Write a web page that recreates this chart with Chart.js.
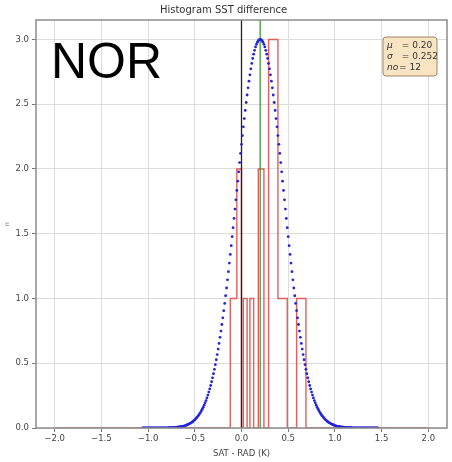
<!DOCTYPE html>
<html>
<head>
<meta charset="utf-8">
<script src="https://cdn.jsdelivr.net/npm/chart.js@4/dist/chart.umd.min.js"></script>
<style>
  html, body { margin: 0; padding: 0; background: #fff; }
  #wrap { width: 452px; height: 462px; }
</style>
</head>
<body>
<div id="wrap"><canvas id="histChart" width="452" height="462"></canvas></div>
<script>
// histogram of SAT - RAD differences (counts per bin)
const binEdges = [-0.12, -0.05, 0.0, 0.02, 0.06, 0.09, 0.13, 0.18, 0.24, 0.29, 0.39, 0.49, 0.59, 0.69];
const binCounts = [1, 2, 0, 1, 0, 1, 0, 2, 0, 3, 1, 0, 1];
const histRange = [-2.0, 2.0];

// fitted normal curve, sampled every 0.01 K from mu - 5 sigma
const gaussStart = -1.06;
const gaussStep = 0.01;
const gaussY = [
  0, 0, 0, 0, 0, 0, 0, 0, 0, 0, 0, 0, 0, 0, 0, 0, 0, 0, 0, 0, 0, 0,
  0.001, 0.001, 0.001, 0.001, 0.001, 0.001,
  0.002, 0.002, 0.002, 0.002, 0.003, 0.003, 0.004, 0.004, 0.005, 0.006,
  0.007, 0.008, 0.009, 0.010, 0.012, 0.013, 0.015, 0.017, 0.019, 0.022,
  0.025, 0.028, 0.032, 0.036, 0.040, 0.045, 0.051, 0.057, 0.063, 0.071,
  0.079, 0.088, 0.097, 0.108, 0.119, 0.132, 0.145, 0.160, 0.176, 0.194,
  0.212, 0.232, 0.254, 0.277, 0.302, 0.328, 0.357, 0.387, 0.419, 0.453,
  0.489, 0.527, 0.567, 0.609, 0.653, 0.700, 0.748, 0.799, 0.851, 0.906,
  0.962, 1.021, 1.081, 1.144, 1.207, 1.273, 1.340, 1.408, 1.477, 1.547,
  1.618, 1.690, 1.762, 1.834, 1.906, 1.978, 2.049, 2.120, 2.190, 2.258,
  2.325, 2.389, 2.452, 2.513, 2.571, 2.626, 2.678, 2.727, 2.773, 2.815,
  2.853, 2.886, 2.916, 2.942, 2.962, 2.979, 2.991, 2.998,
  3.000,
  2.998, 2.991, 2.979, 2.962, 2.942, 2.916, 2.886, 2.853,
  2.815, 2.773, 2.727, 2.678, 2.626, 2.571, 2.513, 2.452, 2.389, 2.325,
  2.258, 2.190, 2.120, 2.049, 1.978, 1.906, 1.834, 1.762, 1.690, 1.618,
  1.547, 1.477, 1.408, 1.340, 1.273, 1.207, 1.144, 1.081, 1.021, 0.962,
  0.906, 0.851, 0.799, 0.748, 0.700, 0.653, 0.609, 0.567, 0.527, 0.489,
  0.453, 0.419, 0.387, 0.357, 0.328, 0.302, 0.277, 0.254, 0.232, 0.212,
  0.194, 0.176, 0.160, 0.145, 0.132, 0.119, 0.108, 0.097, 0.088, 0.079,
  0.071, 0.063, 0.057, 0.051, 0.045, 0.040, 0.036, 0.032, 0.028, 0.025,
  0.022, 0.019, 0.017, 0.015, 0.013, 0.012, 0.010, 0.009, 0.008, 0.007,
  0.006, 0.005, 0.004, 0.004, 0.003, 0.003, 0.002, 0.002, 0.002, 0.002,
  0.001, 0.001, 0.001, 0.001, 0.001, 0.001,
  0, 0, 0, 0, 0, 0, 0, 0, 0, 0, 0, 0, 0, 0, 0, 0, 0, 0, 0, 0, 0, 0
];

// stats shown in the box
const statMu = 0.20;
const statSigma = 0.252;
const statN = 12;
const zeroRef = 0.0;

// axis limits and ticks
const xLimits = [-2.2, 2.2];
const yLimits = [0, 3.15];
const xTickStep = 0.5;
const yTickStep = 0.5;

const fontFam = '"DejaVu Sans", sans-serif';

// step outline like matplotlib histtype='step'
const histOutline = [{ x: histRange[0], y: 0 }];
let prev = 0;
for (let i = 0; i < binCounts.length; i++) {
  histOutline.push({ x: binEdges[i], y: prev });
  histOutline.push({ x: binEdges[i], y: binCounts[i] });
  prev = binCounts[i];
}
histOutline.push({ x: binEdges[binEdges.length - 1], y: prev });
histOutline.push({ x: binEdges[binEdges.length - 1], y: 0 });
histOutline.push({ x: histRange[1], y: 0 });

const gaussPts = gaussY.map((v, i) => ({ x: +(gaussStart + i * gaussStep).toFixed(2), y: v }));

const vline = (x) => [{ x: x, y: yLimits[0] }, { x: x, y: yLimits[1] }];

const fmtMinus = (v) => {
  const s = Math.abs(v).toFixed(1);
  return v < -1e-9 ? '\u2212' + s : s;
};

// frame, NOR label, stats box
const decorPlugin = {
  id: 'decor',
  afterDatasetsDraw(chart) {
    const { ctx, chartArea: a } = chart;
    ctx.save();
    ctx.strokeStyle = '#8c8c8c';
    ctx.lineWidth = 1.5;
    ctx.strokeRect(a.left, a.top, a.right - a.left, a.bottom - a.top);
    ctx.restore();
  },
  afterDraw(chart) {
    const { ctx, chartArea: a } = chart;
    ctx.save();
    // big region tag
    ctx.fillStyle = '#000';
    ctx.font = '50px "Liberation Sans", Arial, sans-serif';
    ctx.textBaseline = 'alphabetic';
    ctx.fillText('NOR', a.left + 15, a.top + 58);

    // stats box
    const bx = a.right - 64, by = a.top + 17, bw = 54, bh = 39, r = 3;
    ctx.beginPath();
    ctx.moveTo(bx + r, by);
    ctx.lineTo(bx + bw - r, by);
    ctx.quadraticCurveTo(bx + bw, by, bx + bw, by + r);
    ctx.lineTo(bx + bw, by + bh - r);
    ctx.quadraticCurveTo(bx + bw, by + bh, bx + bw - r, by + bh);
    ctx.lineTo(bx + r, by + bh);
    ctx.quadraticCurveTo(bx, by + bh, bx, by + bh - r);
    ctx.lineTo(bx, by + r);
    ctx.quadraticCurveTo(bx, by, bx + r, by);
    ctx.closePath();
    ctx.fillStyle = '#f8e3c3';
    ctx.fill();
    ctx.strokeStyle = '#9b8463';
    ctx.lineWidth = 1;
    ctx.stroke();

    ctx.fillStyle = '#333';
    ctx.textBaseline = 'middle';
    const rows = [
      ['\u03bc', ' = ' + statMu.toFixed(2)],
      ['\u03c3', ' = ' + statSigma.toFixed(3)],
      ['no', '= ' + statN]
    ];
    rows.forEach((row, i) => {
      const ty = by + 9 + i * 11;
      ctx.font = 'italic 9px ' + fontFam;
      ctx.fillText(row[0], bx + 4, ty);
      ctx.font = '9px ' + fontFam;
      ctx.fillText(row[1], bx + 16, ty);
    });
    ctx.restore();
  }
};

new Chart(document.getElementById('histChart'), {
  type: 'scatter',
  data: {
    datasets: [
      {
        label: 'fit',
        data: gaussPts,
        showLine: false,
        pointRadius: 1.4,
        pointBackgroundColor: '#2424dc',
        pointBorderWidth: 0,
        pointHoverRadius: 0
      },
      {
        label: 'mean',
        data: vline(statMu),
        showLine: true,
        borderColor: '#3f9a3f',
        borderWidth: 1.3,
        pointRadius: 0
      },
      {
        label: 'zero',
        data: vline(zeroRef),
        showLine: true,
        borderColor: '#222',
        borderWidth: 1.3,
        pointRadius: 0
      },
      {
        label: 'hist',
        data: histOutline,
        showLine: true,
        borderColor: '#e45e5e',
        borderWidth: 1.4,
        pointRadius: 0,
        tension: 0
      }
    ]
  },
  options: {
    responsive: false,
    animation: false,
    events: [],
    layout: { padding: { left: 0, right: 5, top: 0, bottom: 0 } },
    plugins: {
      legend: { display: false },
      tooltip: { enabled: false },
      title: {
        display: true,
        text: 'Histogram SST difference',
        color: '#333',
        font: { family: fontFam, size: 10, weight: 'normal' },
        padding: { top: 4, bottom: 4 }
      }
    },
    scales: {
      x: {
        type: 'linear',
        min: xLimits[0],
        max: xLimits[1],
        afterFit: (s) => { s.height = 34; },
        ticks: {
          stepSize: xTickStep,
          includeBounds: false,
          color: '#444',
          font: { family: fontFam, size: 8.5 },
          padding: 2,
          maxRotation: 0,
          callback: (v) => fmtMinus(v)
        },
        grid: { color: '#dcdcdc', tickLength: 4, tickColor: '#777' },
        border: { display: false },
        title: {
          display: true,
          text: 'SAT - RAD (K)',
          color: '#444',
          font: { family: fontFam, size: 8.5 },
          padding: { top: 0, bottom: 3 }
        }
      },
      y: {
        type: 'linear',
        min: yLimits[0],
        max: yLimits[1],
        afterFit: (s) => { s.width = 36; },
        ticks: {
          stepSize: yTickStep,
          includeBounds: false,
          color: '#444',
          font: { family: fontFam, size: 8.5 },
          padding: 3,
          callback: (v) => v.toFixed(1)
        },
        grid: { color: '#dcdcdc', tickLength: 4, tickColor: '#777' },
        border: { display: false },
        title: {
          display: true,
          text: 'n',
          color: '#555',
          font: { family: fontFam, size: 6 },
          padding: { top: 4, bottom: 0 }
        }
      }
    }
  },
  plugins: [decorPlugin]
});
</script>
</body>
</html>
